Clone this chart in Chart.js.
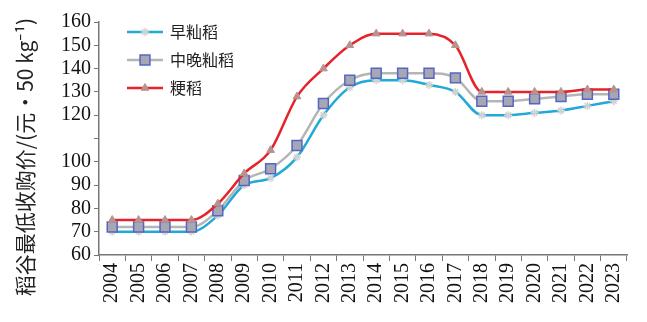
<!DOCTYPE html>
<html>
<head>
<meta charset="utf-8">
<script src="https://cdn.jsdelivr.net/npm/chart.js@4.4.1/dist/chart.umd.min.js"></script>
<style>
    html, body { margin: 0; padding: 0; background: #fff; }
    #wrap { width: 647px; height: 322px; }
</style>
</head>
<body>
<div id="wrap"><canvas id="riceChart" width="647" height="322"></canvas></div>
<script>
// years on the x axis
const years = ['2004', '2005', '2006', '2007', '2008', '2009', '2010', '2011', '2012', '2013',
    '2014', '2015', '2016', '2017', '2018', '2019', '2020', '2021', '2022', '2023'];

// minimum purchase price, yuan per 50 kg
const earlyIndica = [70, 70, 70, 70, 77, 90, 93, 102, 120, 132, 135, 135, 133, 130, 120, 120, 121, 122, 124, 126];
const midLateIndica = [72, 72, 72, 72, 79, 92, 97, 107, 125, 135, 138, 138, 138, 136, 126, 126, 127, 128, 129, 129];
const japonica = [75, 75, 75, 75, 82, 95, 105, 128, 140, 150, 155, 155, 155, 150, 130, 130, 130, 130, 131, 131];

// y tick labels as printed (the 110 label is missing in the original)
const yTickLabels = { 60: '60', 70: '70', 80: '80', 90: '90', 100: '100', 110: '', 120: '120', 130: '130', 140: '140', 150: '150', 160: '160' };

const seriesNames = ['早籼稻', '中晚籼稻', '粳稻'];
const yTitle = '稻谷最低收购价/(元·50 kg⁻¹)';

const serif = "'Liberation Serif', 'DejaVu Serif', serif";
const cjk = "'Noto Sans CJK SC', 'Noto Sans', sans-serif";

// legend drawn by hand: line sample with the marker in the middle
const lineLegend = {
    id: 'lineLegend',
    afterDraw(chart) {
        const ctx = chart.ctx;
        const x0 = 127, x1 = 163, rowY = [32, 60, 88];
        chart.data.datasets.forEach((ds, i) => {
            const y = rowY[i];
            ctx.save();
            ctx.strokeStyle = ds.borderColor;
            ctx.lineWidth = ds.borderWidth;
            ctx.beginPath();
            ctx.moveTo(x0, y);
            ctx.lineTo(x1, y);
            ctx.stroke();
            ctx.fillStyle = ds.pointBackgroundColor;
            ctx.strokeStyle = ds.pointBorderColor;
            ctx.lineWidth = ds.pointBorderWidth;
            Chart.helpers.drawPoint(ctx, {
                pointStyle: ds.pointStyle,
                radius: ds.pointRadius,
                rotation: 0,
                borderWidth: ds.pointBorderWidth
            }, (x0 + x1) / 2, y);
            ctx.fillStyle = '#222';
            ctx.font = '16px ' + cjk;
            ctx.textBaseline = 'middle';
            ctx.fillText(ds.label, 170, y);
            ctx.restore();
        });

        // y axis title, rotated, spanning most of the height
        ctx.save();
        ctx.translate(25, 157);
        ctx.rotate(-Math.PI / 2);
        ctx.fillStyle = '#222';
        ctx.font = '21px ' + cjk;
        ctx.textAlign = 'center';
        ctx.textBaseline = 'middle';
        ctx.fillText(yTitle, 0, 0);
        ctx.restore();
    }
};

new Chart(document.getElementById('riceChart'), {
    type: 'line',
    data: {
        labels: years,
        datasets: [
            {
                label: seriesNames[0],
                data: earlyIndica,
                borderColor: '#22a9d8',
                borderWidth: 2.5,
                cubicInterpolationMode: 'monotone',
                pointStyle: 'star',
                pointRadius: 4,
                pointBackgroundColor: '#e6e6e6',
                pointBorderColor: '#d2d2d2',
                pointBorderWidth: 1.5,
                order: 2
            },
            {
                label: seriesNames[1],
                data: midLateIndica,
                borderColor: '#b5b5b5',
                borderWidth: 2.5,
                cubicInterpolationMode: 'monotone',
                pointStyle: 'rect',
                pointRadius: 7,
                pointBackgroundColor: '#a7a7b4',
                pointBorderColor: '#5565c2',
                pointBorderWidth: 1.5,
                order: 1
            },
            {
                label: seriesNames[2],
                data: japonica,
                borderColor: '#e6222b',
                borderWidth: 2.5,
                cubicInterpolationMode: 'monotone',
                pointStyle: 'triangle',
                pointRadius: 4.5,
                pointBackgroundColor: '#b89290',
                pointBorderColor: '#b89290',
                pointBorderWidth: 1,
                order: 0
            }
        ]
    },
    options: {
        responsive: false,
        animation: false,
        layout: { padding: { top: 22, right: 20, bottom: 0, left: 0 } },
        plugins: {
            legend: { display: false },
            tooltip: { enabled: false }
        },
        scales: {
            x: {
                offset: true,
                grid: { offset: true, drawOnChartArea: false, drawTicks: true, tickLength: 6, color: '#777' },
                border: { color: '#777', width: 1.5 },
                ticks: {
                    color: '#111',
                    font: { family: serif, size: 20 },
                    minRotation: 90,
                    maxRotation: 90,
                    autoSkip: false,
                    padding: 2
                },
                afterFit(scale) { scale.height = 67; }
            },
            y: {
                min: 60,
                max: 160,
                grid: { drawOnChartArea: false, drawTicks: true, tickLength: 5, color: '#777' },
                border: { color: '#777', width: 1.5 },
                ticks: {
                    stepSize: 10,
                    autoSkip: false,
                    color: '#111',
                    font: { family: serif, size: 20 },
                    padding: 3,
                    callback: v => yTickLabels[v]
                },
                afterFit(scale) { scale.width = 99; }
            }
        }
    },
    plugins: [lineLegend]
});
</script>
</body>
</html>
